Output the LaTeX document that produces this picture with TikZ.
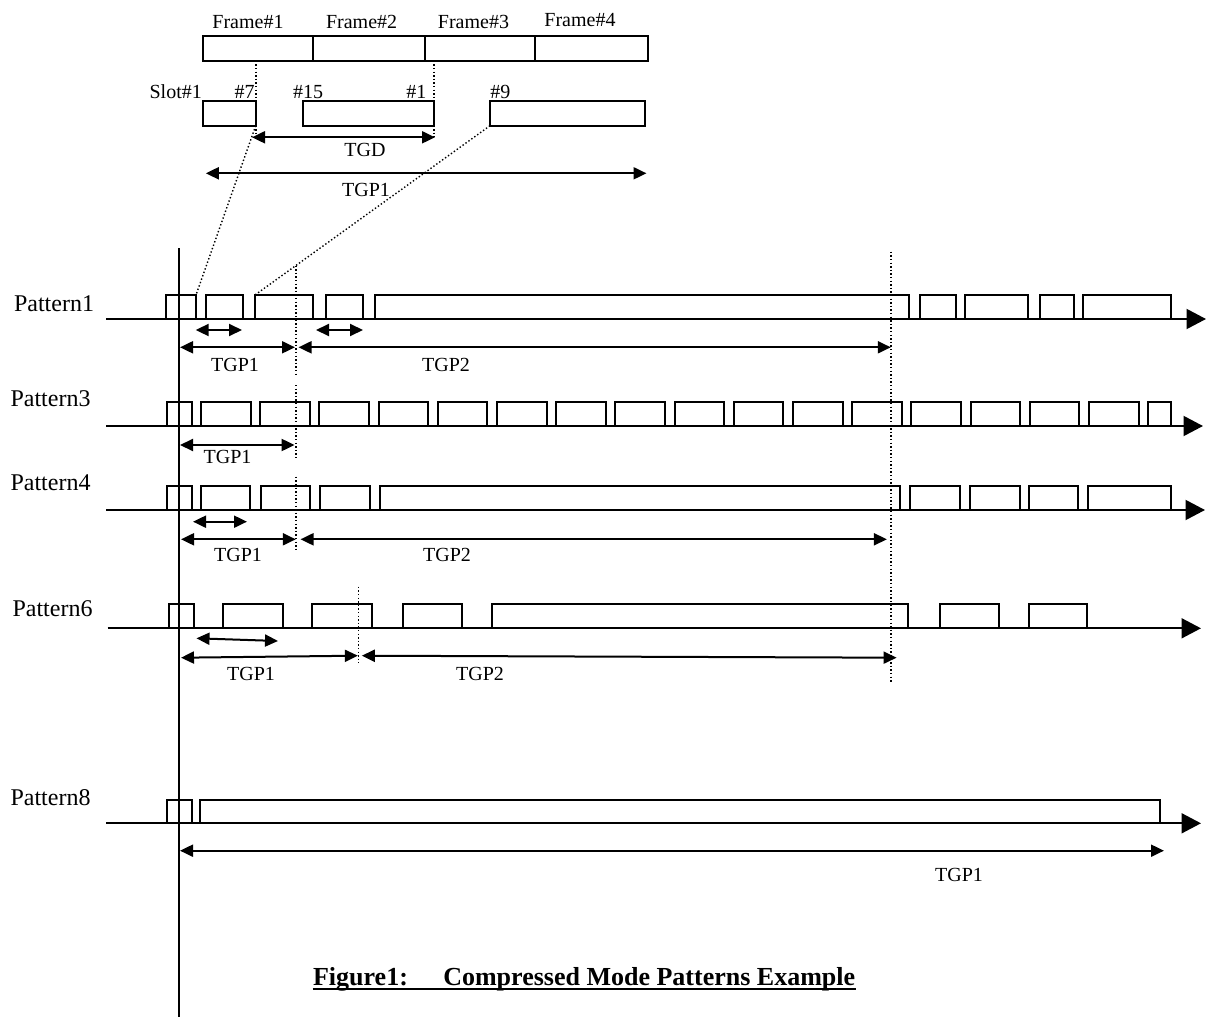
\documentclass[tikz,border=0pt]{standalone}
\usepackage{fontspec}
\setmainfont{Liberation Serif}
\usetikzlibrary{arrows.meta,fit,positioning}

\begin{document}
\begin{tikzpicture}[
    x=0.5pt, y=-0.5pt,
    box/.style={rectangle,draw=black,line width=1pt,inner sep=0pt,outer sep=0pt},
    timeline/.style={line width=1pt,-{Triangle[length=9.75pt,width=10pt]}},
    dimarrow/.style={line width=1pt,{Triangle[length=6.5pt,width=6pt]}-{Triangle[length=6.5pt,width=6pt]}},
    guide/.style={line width=0.7pt,dash pattern=on 0.7pt off 1.1pt},
    labelstyle/.style={font=\fontsize{10}{12}\selectfont,inner sep=0pt,anchor=base},
    patternlabel/.style={font=\fontsize{12}{14}\selectfont,inner sep=0pt,anchor=base},
    captionstyle/.style={font=\fontsize{13}{15}\selectfont\bfseries,inner sep=0pt,anchor=base west}
]
\useasboundingbox (0,0) rectangle (1212,1017);

% frames and slots (zoomed view)
\node[box,fit={(203.3,36) (312.5,60.7)}] (f1) {};
\node[box,fit={(312.5,36) (425,60.7)}] (f2) {};
\node[box,fit={(425,36) (535,60.7)}] (f3) {};
\node[box,fit={(535,36) (647.6,60.7)}] (f4) {};
\node[labelstyle] (f1txt) at (248,28.3) {Frame\#1};
\node[labelstyle] (f2txt) at (361.6,28.3) {Frame\#2};
\node[labelstyle] (f3txt) at (473.5,28.3) {Frame\#3};
\node[labelstyle] (f4txt) at (580,26) {Frame\#4};

\node[box,fit={(203.3,101) (255.7,125.7)}] (s1) {};
\node[box,fit={(303.2,101) (434,125.7)}] (s2) {};
\node[box,fit={(490,101) (644.5,125.7)}] (s3) {};
\node[labelstyle] (slot1) at (175.7,98) {Slot\#1};
\node[labelstyle] (slot7) at (244.5,98) {\#7};
\node[labelstyle] (slot15) at (308.2,98) {\#15};
\node[labelstyle] (slot1b) at (416.3,98) {\#1};
\node[labelstyle] (slot9) at (500.3,98) {\#9};

\draw[guide] (256,60.7) -- (256,137.3);
\draw[guide] (434,60.7) -- (434,137.3);
\draw[dimarrow] (252,137.3) -- (435,137.3);
\node[labelstyle] (tgd) at (365,156.7) {TGD};
\draw[dimarrow] (205.8,173.3) -- (646.5,173.3);
\node[labelstyle] (tgp1top) at (366,196) {TGP1};

% time origin
\draw[line width=1pt] (179,248) -- (179,1017);
\draw[guide] (890.8,251.7) -- (890.8,681.7);

% Pattern1
\node[patternlabel] (pat1) at (54,311.7) {Pattern1};
\draw[timeline] (106,319) -- (1206,319);
\foreach \l/\r [count=\i] in {166/196,206/243,255/313,326/363,375/909,920/956,965/1028,1040/1074,1083/1171}
  \node[box,fit={(\l,295) (\r,319)}] (p1b\i) {};
\draw[guide] (s1.south east) -- (p1b1.north east);
\draw[guide] (s3.south west) -- (p1b3.north west);
\draw[guide] (296,265.5) -- (296,376.7);
\draw[dimarrow] (195.7,330) -- (242,330);
\draw[dimarrow] (316,330) -- (363,330);
\draw[dimarrow] (180,347.3) -- (295,347.3);
\draw[dimarrow] (298.5,347.3) -- (890.8,347.3);
\node[labelstyle] (p1tgp1) at (235,371.7) {TGP1};
\node[labelstyle] (p1tgp2) at (446,371.7) {TGP2};

% Pattern3
\node[patternlabel] (pat3) at (50.5,406.7) {Pattern3};
\draw[timeline] (106,426) -- (1203,426);
\node[box,fit={(167,401.7) (192,426)}] (p3first) {};
\foreach \k in {0,...,15}
  \node[box,fit={({201+59.2*\k},401.7) ({250.5+59.2*\k},426)}] (p3b\k) {};
\node[box,fit={(1148,401.7) (1171,426)}] (p3last) {};
\draw[guide] (296,385) -- (296,458);
\draw[dimarrow] (180,445) -- (294.6,445);
\node[labelstyle] (p3tgp1) at (227.5,463) {TGP1};

% Pattern4
\node[patternlabel] (pat4) at (50.5,490) {Pattern4};
\draw[timeline] (106,510) -- (1205,510);
\foreach \l/\r [count=\i] in {167/192,201/250,261/310,319.5/370,380/900,910/960,970/1020,1029/1078,1088/1171}
  \node[box,fit={(\l,486) (\r,510)}] (p4b\i) {};
\draw[guide] (296,476.7) -- (296,551.7);
\draw[dimarrow] (193,521.7) -- (247,521.7);
\draw[dimarrow] (181,539.3) -- (295.8,539.3);
\draw[dimarrow] (300.5,539.3) -- (886.9,539.3);
\node[labelstyle] (p4tgp1) at (238,561.7) {TGP1};
\node[labelstyle] (p4tgp2) at (447,561.7) {TGP2};

% Pattern6
\node[patternlabel] (pat6) at (52.5,616.7) {Pattern6};
\draw[timeline] (107.5,628.3) -- (1201,628.3);
\foreach \l/\r [count=\i] in {169/194,223/283,312/372,402.5/462,491.5/908,940/999,1028.6/1087}
  \node[box,fit={(\l,604.3) (\r,628.3)}] (p6b\i) {};
\draw[guide] (358.6,586.7) -- (358.6,663.3);
\draw[dimarrow] (196.5,638.3) -- (278,641);
\draw[dimarrow] (181,657.7) -- (357.9,655.7);
\draw[dimarrow] (361.8,655.7) -- (896.6,657.7);
\node[labelstyle] (p6tgp1) at (251,680) {TGP1};
\node[labelstyle] (p6tgp2) at (480,680) {TGP2};

% Pattern8
\node[patternlabel] (pat8) at (50.5,805) {Pattern8};
\draw[timeline] (106,823.3) -- (1201,823.3);
\node[box,fit={(167,800) (192,823.3)}] (p8b1) {};
\node[box,fit={(200,800) (1160,823.3)}] (p8b2) {};
\draw[dimarrow] (180,850.7) -- (1164,850.7);
\node[labelstyle] (p8tgp1) at (959,881.7) {TGP1};

% caption
\node[captionstyle] (cap) at (312.7,985) {Figure1:\hspace{1.36em}Compressed Mode Patterns Example};
\draw[line width=0.8pt] ([yshift=-2pt]cap.base west) -- ([yshift=-2pt]cap.base east);

\end{tikzpicture}
\end{document}
